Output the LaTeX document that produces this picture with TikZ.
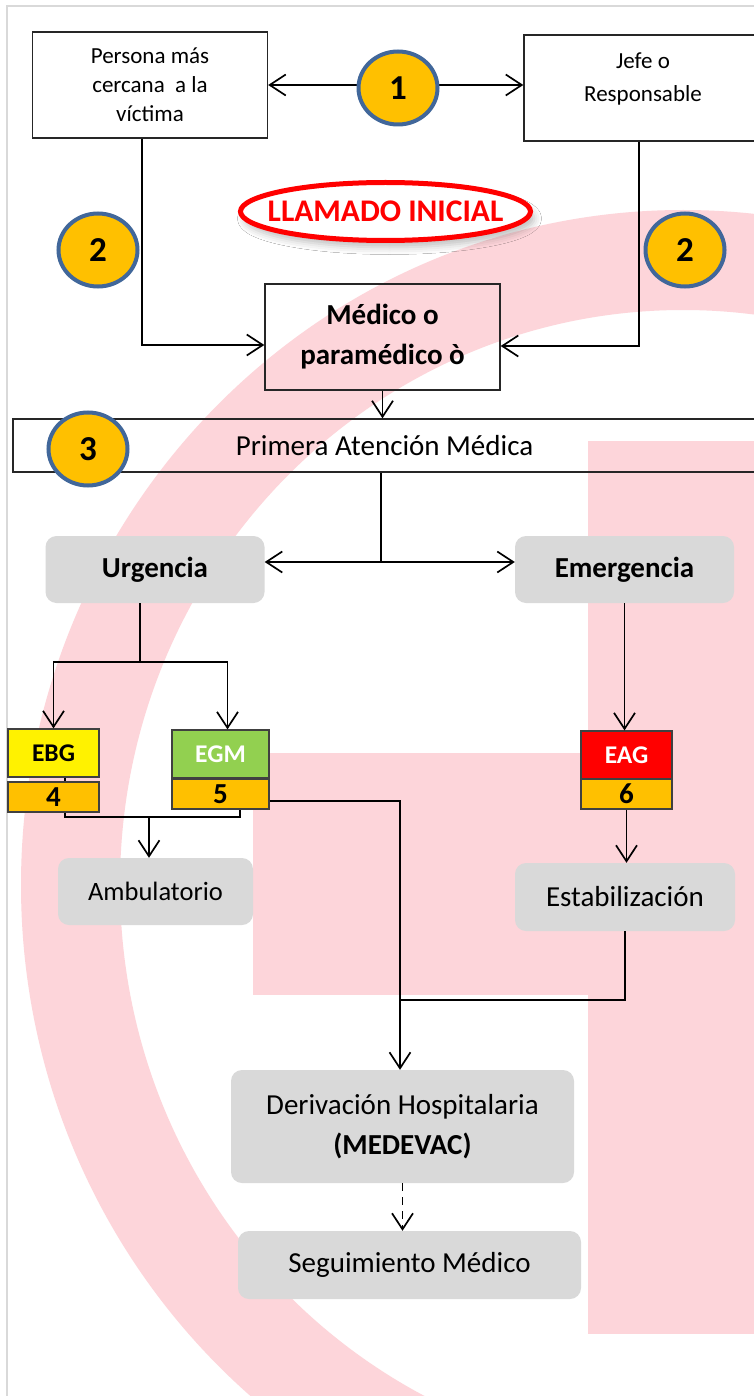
\documentclass[tikz,border=0pt]{standalone}
\usepackage{fontspec}
\setmainfont{Carlito}
\usetikzlibrary{arrows.meta,shadows.blur,calc,shapes.geometric}
\definecolor{pinkbg}{RGB}{253,213,218}
\definecolor{gold}{RGB}{255,192,0}
\definecolor{ringblue}{RGB}{65,103,154}
\definecolor{boxgray}{RGB}{217,217,217}
\definecolor{egmgreen}{RGB}{146,208,80}
\definecolor{framegray}{RGB}{217,217,217}
\newcommand{\fsz}[2]{\fontsize{#1pt}{#2pt}\selectfont}
\tikzset{
  >={Straight Barb[length=16pt,width=21pt]},
  conn/.style={draw=black,line width=1.7pt},
  plainbox/.style={draw=black!85,line width=1.4pt,inner sep=0pt,align=center},
  graybox/.style={fill=boxgray,rounded corners=11pt,inner sep=0pt,align=center},
  colbox/.style={draw=black!75,line width=1.2pt,inner sep=0pt,align=center,font=\bfseries\fsz{25.5}{25.5}},
  numbox/.style={colbox,fill=gold,minimum height=30pt,font=\bfseries\fsz{29}{29}},
  numcircle/.style={ellipse,fill=gold,draw=ringblue,line width=4pt,minimum width=79pt,minimum height=73pt,inner sep=0pt,font=\bfseries\fsz{35}{35}},
}
\begin{document}
\begin{tikzpicture}[x=1pt,y=-1pt]
\useasboundingbox (0,0) rectangle (754,1396);
\begin{scope}
\clip (0,0) rectangle (754,1396);
\fill[white] (0,0) rectangle (754,1396);
% background logo
\fill[pinkbg,even odd rule] (683,885) ellipse [x radius=662,y radius=675]
      (683,885) ellipse [x radius=563,y radius=575];
\fill[pinkbg] (253,753) rectangle (588,995);
\fill[pinkbg] (588,441) rectangle (760,1334);
\draw[framegray,line width=2pt] (6.5,1400) -- (6.5,6.5) -- (760,6.5);

% boxes
\node[plainbox,minimum width=235pt,minimum height=106pt,font=\fsz{23}{29}] (persona) at (150,85)
  {Persona más\\cercana~ a la\\víctima};
\node[plainbox,minimum width=238pt,minimum height=106pt] (jefe) at (643,88) {};
\node[align=center,inner sep=0pt,font=\fsz{23}{33}] (jefetxt) at (643,79) {Jefe o\\Responsable};
\node[plainbox,minimum width=235pt,minimum height=106pt,font=\bfseries\fsz{29}{40}] (medico) at (382.5,337)
  {Médico o\\paramédico ò};
\node[plainbox,minimum width=743pt,minimum height=53pt,font=\fsz{29}{29}] (primera) at (384.5,445.5)
  {Primera Atención Médica};

\node[graybox,minimum width=219pt,minimum height=67pt,font=\bfseries\fsz{29}{29}] (urg) at (155,569.5) {Urgencia};
\node[graybox,minimum width=219pt,minimum height=67pt,font=\bfseries\fsz{29}{29}] (emer) at (624.5,569.5) {Emergencia};

\node[colbox,fill=yellow,minimum width=91pt,minimum height=48pt] (ebg) at (53.5,753) {EBG};
\node[numbox,minimum width=91pt] (four) at (53.5,797) {4};
\node[colbox,fill=egmgreen,text=white,minimum width=97pt,minimum height=48pt] (egm) at (220.5,754) {EGM};
\node[numbox,minimum width=97pt] (five) at (220.5,794) {5};
\node[colbox,fill=red,text=white,minimum width=91pt,minimum height=48pt] (eag) at (626.5,755) {EAG};
\node[numbox,minimum width=91pt] (six) at (626.5,794) {6};

\node[graybox,minimum width=195pt,minimum height=67pt,font=\fsz{26.5}{26.5}] (amb) at (155.5,891.5) {Ambulatorio};
\node[graybox,minimum width=220pt,minimum height=68pt,font=\fsz{29}{29}] (estab) at (625,897) {Estabilización};
\node[graybox,minimum width=343pt,minimum height=113pt,font=\fsz{29}{40}] (deriv) at (402.5,1126.5)
  {Derivación Hospitalaria\\\textbf{(MEDEVAC)}};
\node[graybox,minimum width=343pt,minimum height=68pt,font=\fsz{29}{29}] (segu) at (409.5,1265) {Seguimiento Médico};

% connectors
\draw[conn,<->] (persona.east) -- (persona.east -| jefe.west);
\draw[conn,->] ($(persona.south)+(-8,0)$) |- ($(medico.west)+(0,8)$);
\draw[conn,->] ($(jefe.south)+(-4,0)$) |- ($(medico.east)+(0,9)$);
\draw[conn,->] (medico.south) -- (medico.south |- primera.north);

\coordinate (split) at (381,562);
\draw[conn] (split |- primera.south) -- (split);
\draw[conn,<->] (urg.east |- split) -- (emer.west |- split);

\coordinate (ub) at (140,662);
\draw[conn] (ub |- urg.south) -- (ub);
\draw[conn,->] (ub) -| (ebg.north);
\draw[conn,->] (ub) -| ($(egm.north)+(7,0)$);
\draw[conn,->] (emer.south) -- (emer.south |- eag.north);

\coordinate (bl) at (65,817);
\coordinate (br) at (240,817);
\coordinate (ba) at (149,817);
\draw[conn,line width=1.2pt] (bl |- ebg.south) -- (bl |- four.north);
\draw[conn] (bl |- four.south) -- (bl) -- (br) -- (br |- five.south);
\draw[conn,->] (ba) -- (ba |- amb.north);

\coordinate (dv) at (400,1000);
\draw[conn,->] ($(five.east)+(0,7)$) -| (dv |- deriv.north);
\draw[conn,->] (six.south) -- (six.south |- estab.north);
\draw[conn] (estab.south) |- (dv);
\draw[conn,->,dash pattern=on 8pt off 6pt] (deriv.south) -- (deriv.south |- segu.north);

% numbered circles
\node[numcircle] (c1) at (398,88) {1};
\node[numcircle] (c2l) at (98,250) {2};
\node[numcircle] (c2r) at (685,250) {2};
\node[numcircle] (c3) at (88,449) {3};

% LLAMADO INICIAL
\node[ellipse,fill=white,draw=red,line width=5pt,minimum width=290pt,minimum height=58pt,inner sep=0pt,
  blur shadow={shadow xshift=4pt,shadow yshift=-7pt,shadow blur radius=7pt,shadow opacity=25}] (llamado) at (385.5,211.5) {};
\node[inner sep=0pt,text=red,font=\bfseries\fsz{31.5}{31.5}] (llamadotxt) at (llamado.center) {LLAMADO INICIAL};
\end{scope}
\end{tikzpicture}
\end{document}
